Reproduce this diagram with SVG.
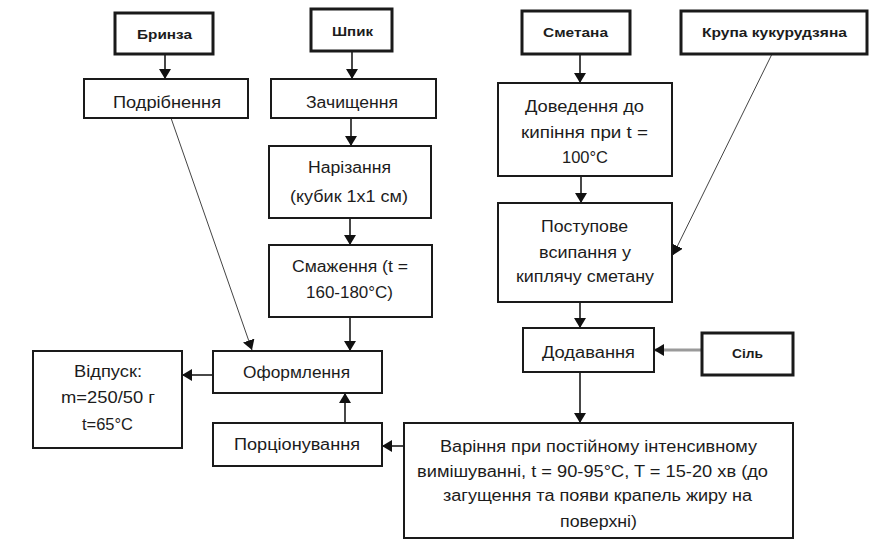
<svg xmlns="http://www.w3.org/2000/svg" width="881" height="540" viewBox="0 0 881 540">
  <defs>
    <marker id="arrow" markerUnits="userSpaceOnUse" markerWidth="12" markerHeight="13" refX="10" refY="6" orient="auto">
      <path d="M0,0 L10,6 L0,12 z" fill="#111"/>
    </marker>
    <style>
      .box { fill: #fff; stroke: #1a1a1a; stroke-width: 2; }
      .src { fill: #fff; stroke: #1a1a1a; stroke-width: 3; }
      text { font-family: "Liberation Sans", Arial, sans-serif; font-size: 16px; fill: #1c1c1c; text-anchor: middle; }
      .b { font-weight: bold; font-size: 13px; }
      .edge { stroke: #1a1a1a; stroke-width: 1.6; fill: none; marker-end: url(#arrow); }
      .thin { stroke: #444; stroke-width: 1; fill: none; marker-end: url(#arrow); }
      .grey { stroke: #9a9a9a; stroke-width: 3; fill: none; marker-end: url(#arrow); }
    </style>
  </defs>
  <rect width="881" height="540" fill="#fff"/>

  <g id="connectors">
    <line class="edge" x1="165" y1="54" x2="165" y2="79"/>
    <line class="edge" x1="352" y1="51" x2="352" y2="79"/>
    <line class="edge" x1="351" y1="118" x2="351" y2="146"/>
    <line class="edge" x1="350" y1="218" x2="350" y2="245"/>
    <line class="edge" x1="350" y1="317" x2="350" y2="351"/>
    <line class="thin" x1="171" y1="118" x2="252" y2="350"/>
    <line class="edge" x1="213" y1="375" x2="182" y2="375"/>
    <line class="edge" x1="345" y1="423" x2="345" y2="393"/>
    <line class="edge" x1="404" y1="446" x2="382" y2="446"/>
    <line class="edge" x1="580" y1="54" x2="580" y2="83" stroke="#888"/>
    <line class="edge" x1="581" y1="176" x2="581" y2="203"/>
    <line class="thin" x1="772" y1="54" x2="673" y2="255"/>
    <line class="edge" x1="580" y1="302" x2="580" y2="328"/>
    <line class="grey" x1="702" y1="350" x2="654" y2="350"/>
    <line class="edge" x1="580" y1="372" x2="580" y2="423"/>
  </g>

  <g id="brynza">
    <rect class="src" x="115" y="13" width="98" height="41"/>
    <text class="b" x="164.5" y="39" textLength="55" lengthAdjust="spacingAndGlyphs">Бринза</text>
  </g>
  <g id="shpyk">
    <rect class="src" x="311" y="9" width="81" height="42"/>
    <text class="b" x="352.5" y="36" textLength="41" lengthAdjust="spacingAndGlyphs">Шпик</text>
  </g>
  <g id="podribnennia">
    <rect class="box" x="84" y="79" width="164" height="39"/>
    <text x="167" y="108" textLength="108" lengthAdjust="spacingAndGlyphs">Подрібнення</text>
  </g>
  <g id="zachyshchennia">
    <rect class="box" x="271" y="79" width="165" height="39"/>
    <text x="352" y="108" textLength="92" lengthAdjust="spacingAndGlyphs">Зачищення</text>
  </g>
  <g id="narizannia">
    <rect class="box" x="269" y="146" width="162" height="72"/>
    <text x="349.5" y="173" textLength="83" lengthAdjust="spacingAndGlyphs">Нарізання</text>
    <text x="349" y="202" textLength="118" lengthAdjust="spacingAndGlyphs">(кубик 1х1 см)</text>
  </g>
  <g id="smazhennia">
    <rect class="box" x="269" y="245" width="163" height="72"/>
    <text x="350" y="272" textLength="116" lengthAdjust="spacingAndGlyphs">Смаження (t =</text>
    <text x="349.5" y="298" textLength="87" lengthAdjust="spacingAndGlyphs">160-180°C)</text>
  </g>
  <g id="oformlennia">
    <rect class="box" x="213" y="351" width="169" height="42"/>
    <text x="296.5" y="378" textLength="107" lengthAdjust="spacingAndGlyphs">Оформлення</text>
  </g>
  <g id="vidpusk">
    <rect class="box" x="33" y="351" width="149" height="97"/>
    <text x="108" y="377" textLength="68" lengthAdjust="spacingAndGlyphs">Відпуск:</text>
    <text x="108" y="403" textLength="94" lengthAdjust="spacingAndGlyphs">m=250/50 г</text>
    <text x="107.5" y="430" textLength="51" lengthAdjust="spacingAndGlyphs">t=65°C</text>
  </g>
  <g id="portsionuvannia">
    <rect class="box" x="213" y="423" width="169" height="43"/>
    <text x="297" y="450" textLength="126" lengthAdjust="spacingAndGlyphs">Порціонування</text>
  </g>
  <g id="smetana">
    <rect class="src" x="522" y="11" width="108" height="43"/>
    <text class="b" x="575.5" y="37" textLength="65" lengthAdjust="spacingAndGlyphs">Сметана</text>
  </g>
  <g id="krupa">
    <rect class="src" x="681" y="11" width="186" height="43"/>
    <text class="b" x="774.5" y="37" textLength="145" lengthAdjust="spacingAndGlyphs">Крупа кукурудзяна</text>
  </g>
  <g id="dovedennia">
    <rect class="box" x="498" y="83" width="174" height="93"/>
    <text x="584.5" y="112" textLength="119" lengthAdjust="spacingAndGlyphs">Доведення до</text>
    <text x="584.5" y="138" textLength="127" lengthAdjust="spacingAndGlyphs">кипіння при t =</text>
    <text x="585" y="163" textLength="46" lengthAdjust="spacingAndGlyphs">100°C</text>
  </g>
  <g id="postupove">
    <rect class="box" x="498" y="203" width="174" height="99"/>
    <text x="584.5" y="232" textLength="87" lengthAdjust="spacingAndGlyphs">Поступове</text>
    <text x="585" y="258" textLength="92" lengthAdjust="spacingAndGlyphs">всипання у</text>
    <text x="585" y="282" textLength="138" lengthAdjust="spacingAndGlyphs">киплячу сметану</text>
  </g>
  <g id="dodavannia">
    <rect class="box" x="523" y="328" width="131" height="44"/>
    <text x="588.5" y="358" textLength="93" lengthAdjust="spacingAndGlyphs">Додавання</text>
  </g>
  <g id="sil">
    <rect class="src" x="702" y="333" width="91" height="42"/>
    <text class="b" x="747.5" y="358" textLength="31" lengthAdjust="spacingAndGlyphs">Сіль</text>
  </g>
  <g id="varinnia">
    <rect class="box" x="404" y="423" width="389" height="115"/>
    <text x="598.5" y="452" textLength="317" lengthAdjust="spacingAndGlyphs">Варіння при постійному інтенсивному</text>
    <text x="592.5" y="477" textLength="351" lengthAdjust="spacingAndGlyphs">вимішуванні, t = 90-95°C, T = 15-20 хв (до</text>
    <text x="597.5" y="501" textLength="309" lengthAdjust="spacingAndGlyphs">загущення та появи крапель жиру на</text>
    <text x="598.5" y="527" textLength="77" lengthAdjust="spacingAndGlyphs">поверхні)</text>
  </g>
</svg>
